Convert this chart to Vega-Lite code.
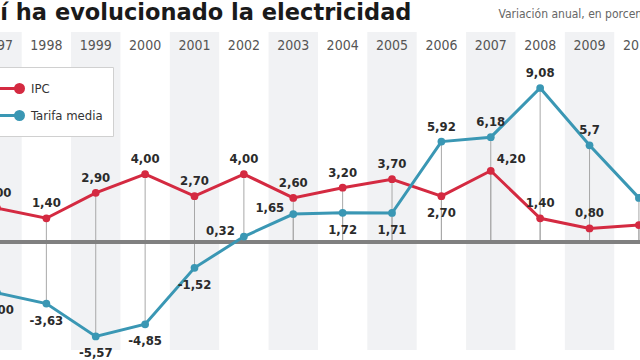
{
  "$schema": "https://vega.github.io/schema/vega-lite/v6.json",
  "width": 640,
  "height": 318,
  "autosize": {"type": "none"},
  "padding": {"left": 0, "top": 32, "right": 0, "bottom": 10},
  "background": "white",
  "config": {
    "view": {"stroke": null},
    "font": "'DejaVu Sans Condensed', Roboto, sans-serif"
  },
  "data": {
    "values": [
      {"year": 1997, "serie": "IPC", "value": 2.0, "label": "2,00"},
      {"year": 1998, "serie": "IPC", "value": 1.4, "label": "1,40"},
      {"year": 1999, "serie": "IPC", "value": 2.9, "label": "2,90"},
      {"year": 2000, "serie": "IPC", "value": 4.0, "label": "4,00"},
      {"year": 2001, "serie": "IPC", "value": 2.7, "label": "2,70"},
      {"year": 2002, "serie": "IPC", "value": 4.0, "label": "4,00"},
      {"year": 2003, "serie": "IPC", "value": 2.6, "label": "2,60"},
      {"year": 2004, "serie": "IPC", "value": 3.2, "label": "3,20"},
      {"year": 2005, "serie": "IPC", "value": 3.7, "label": "3,70"},
      {"year": 2006, "serie": "IPC", "value": 2.7, "label": "2,70"},
      {"year": 2007, "serie": "IPC", "value": 4.2, "label": "4,20"},
      {"year": 2008, "serie": "IPC", "value": 1.4, "label": "1,40"},
      {"year": 2009, "serie": "IPC", "value": 0.8, "label": "0,80"},
      {"year": 2010, "serie": "IPC", "value": 1.0, "label": "1,00"},
      {"year": 1997, "serie": "Tarifa media", "value": -3.0, "label": "-3,00"},
      {"year": 1998, "serie": "Tarifa media", "value": -3.63, "label": "-3,63"},
      {"year": 1999, "serie": "Tarifa media", "value": -5.57, "label": "-5,57"},
      {"year": 2000, "serie": "Tarifa media", "value": -4.85, "label": "-4,85"},
      {"year": 2001, "serie": "Tarifa media", "value": -1.52, "label": "-1,52"},
      {"year": 2002, "serie": "Tarifa media", "value": 0.32, "label": "0,32"},
      {"year": 2003, "serie": "Tarifa media", "value": 1.65, "label": "1,65"},
      {"year": 2004, "serie": "Tarifa media", "value": 1.72, "label": "1,72"},
      {"year": 2005, "serie": "Tarifa media", "value": 1.71, "label": "1,71"},
      {"year": 2006, "serie": "Tarifa media", "value": 5.92, "label": "5,92"},
      {"year": 2007, "serie": "Tarifa media", "value": 6.18, "label": "6,18"},
      {"year": 2008, "serie": "Tarifa media", "value": 9.08, "label": "9,08"},
      {"year": 2009, "serie": "Tarifa media", "value": 5.7, "label": "5,7"},
      {"year": 2010, "serie": "Tarifa media", "value": 2.6, "label": "2,6"}
    ]
  },
  "encoding": {
    "x": {
      "field": "year",
      "type": "ordinal",
      "scale": {"range": [-27.7, 663.6], "paddingInner": 0, "paddingOuter": 0},
      "axis": {
        "orient": "top",
        "title": "Así ha evolucionado la electricidad",
        "titleX": -31,
        "titleY": -26,
        "titleAlign": "left",
        "titleAnchor": null,
        "titleAngle": 0,
        "titleBaseline": "alphabetic",
        "titleFont": "DejaVu Sans",
        "titleFontSize": 22.5,
        "titleFontWeight": "bold",
        "titleColor": "#1a1a1a",
        "titleLimit": 1000,
        "domain": false,
        "ticks": false,
        "grid": false,
        "labelAngle": 0,
        "labelPadding": 0,
        "offset": -13,
        "labelBaseline": "middle",
        "labelFontSize": 14,
        "labelColor": "#555555",
        "labelOverlap": false
      }
    }
  },
  "layer": [
    {
      "transform": [{"filter": "datum.year % 2 == 1 && datum.serie == 'IPC'"}],
      "mark": {"type": "rect", "color": "#f1f2f4"},
      "encoding": {}
    },
    {
      "mark": {"type": "rule", "color": "#a8a8a8", "strokeWidth": 1},
      "encoding": {
        "y": {"aggregate": "max", "field": "value", "type": "quantitative",
              "scale": {"domain": [-6.368, 12.382], "nice": false, "zero": false}},
        "y2": {"datum": 0}
      }
    },
    {
      "mark": {"type": "rule", "color": "#a8a8a8", "strokeWidth": 1},
      "encoding": {
        "y": {"aggregate": "min", "field": "value", "type": "quantitative"},
        "y2": {"datum": 0}
      }
    },
    {
      "mark": {"type": "rule", "color": "#808080", "strokeWidth": 2.5},
      "encoding": {"x": null, "y": {"datum": 0}}
    },
    {
      "mark": {"type": "line", "strokeWidth": 3},
      "encoding": {
        "y": {
          "field": "value",
          "type": "quantitative",
          "axis": {
            "orient": "left",
            "domain": false,
            "ticks": false,
            "labels": false,
            "grid": false,
            "title": "Variación anual, en porcentaje",
            "titleAngle": 0,
            "titleX": 498,
            "titleY": -15,
            "titleAlign": "left",
            "titleBaseline": "alphabetic",
            "titleFontSize": 12,
            "titleFontWeight": "normal",
            "titleColor": "#666666"
          }
        },
        "color": {
          "field": "serie",
          "type": "nominal",
          "scale": {"domain": ["IPC", "Tarifa media"], "range": ["#d42a41", "#3a97b4"]},
          "legend": {
            "orient": "none",
            "legendX": -6,
            "legendY": 35,
            "title": null,
            "symbolType": "M -2.5 0 L 0.4 0 M 0.8 0 A 0.4 0.4 0 1 1 0 0 A 0.4 0.4 0 1 1 0.8 0 Z",
            "symbolSize": 400,
            "symbolStrokeWidth": 3,
            "symbolOpacity": 1,
            "fillColor": "white",
            "strokeColor": "#d0d0d0",
            "padding": 10,
            "rowPadding": 5,
            "labelFontSize": 13,
            "labelColor": "#333333",
            "labelOffset": 4,
            "encode": {
              "symbols": {
                "update": {
                  "stroke": {"scale": "color", "field": "value"},
                  "fill": {"scale": "color", "field": "value"},
                  "strokeWidth": {"value": 3}
                }
              }
            }
          }
        }
      }
    },
    {
      "mark": {"type": "point", "filled": true, "size": 60, "opacity": 1},
      "encoding": {
        "y": {"field": "value", "type": "quantitative"},
        "color": {"field": "serie", "type": "nominal"}
      }
    },
    {
      "transform": [{"filter": "datum.year < 2010 && ((datum.serie == 'IPC' && datum.year != 2006 && datum.year != 2007) || (datum.serie == 'Tarifa media' && datum.value > 3))"}],
      "mark": {"type": "text", "dy": -15, "fontSize": 13, "fontWeight": "bold", "color": "#2b2b2b", "baseline": "middle"},
      "encoding": {"y": {"field": "value", "type": "quantitative"}, "text": {"field": "label"}}
    },
    {
      "transform": [{"filter": "datum.year < 2010 && ((datum.serie == 'IPC' && datum.year == 2006) || (datum.serie == 'Tarifa media' && datum.value <= 3 && datum.year != 2002 && datum.year != 2003))"}],
      "mark": {"type": "text", "dy": 17, "fontSize": 13, "fontWeight": "bold", "color": "#2b2b2b", "baseline": "middle"},
      "encoding": {"y": {"field": "value", "type": "quantitative"}, "text": {"field": "label"}}
    },
    {
      "transform": [{"filter": "datum.serie == 'Tarifa media' && (datum.year == 2002 || datum.year == 2003)"}],
      "mark": {"type": "text", "dx": -9, "dy": -6, "align": "right", "fontSize": 13, "fontWeight": "bold", "color": "#2b2b2b", "baseline": "middle"},
      "encoding": {"y": {"field": "value", "type": "quantitative"}, "text": {"field": "label"}}
    },
    {
      "transform": [{"filter": "datum.serie == 'IPC' && datum.year == 2007"}],
      "mark": {"type": "text", "dx": 6, "dy": -12, "align": "left", "fontSize": 13, "fontWeight": "bold", "color": "#2b2b2b", "baseline": "middle"},
      "encoding": {"y": {"field": "value", "type": "quantitative"}, "text": {"field": "label"}}
    }
  ]
}
